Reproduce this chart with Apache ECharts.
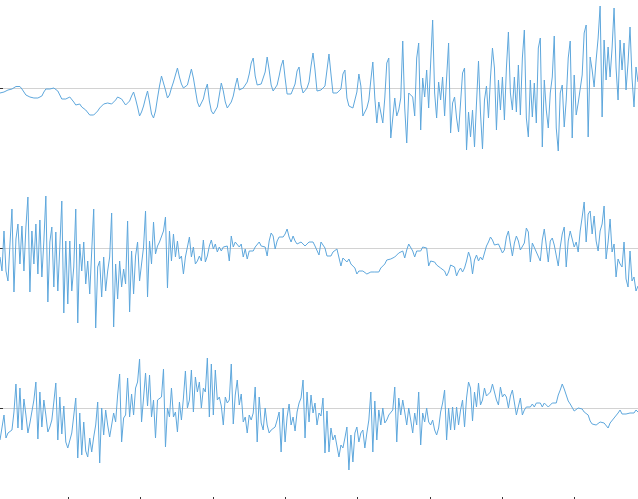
<!DOCTYPE html>
<html>
<head>
<meta charset="utf-8">
<script src="https://cdn.jsdelivr.net/npm/echarts@6/dist/echarts.min.js"></script>
<style>
html,body{margin:0;padding:0;background:#fff;}
#chart{width:638px;height:499px;}
</style>
</head>
<body>
<div id="chart"></div>
<script>
// Series values (index 0..320)
const topValues = [
-5,-5,-4,-2.5,-2,-1.5,-1,0,1.5,2,
1.5,-1,-4,-7,-7,-9,-11,-10,-10,-10,
-9,-8,-4,-1,-1,-1,-2,0,0,-3,
-7,-11,-11,-11,-9,-9,-11,-14,-17,-16,
-16,-19,-21,-22,-24,-27,-27,-27,-25,-23,
-20,-18,-16,-15,-15,-16,-16,-15,-12,-9,
-7,-11,-14,-17,-15,-13,-8,-4,-11,-19,
-28,-24,-18,-10,-3,-14,-26,-30,-23,-10,
2,12,10,-2,-10,-7,0,6,13,20,
11,4,0,-1,3,11,19,10,-2,-14,
-19,-18,-11,-2,4,-13,-23,-26,-24,-19,
-7,5,-3,-14,-20,-17,-14,-8,2,10,
-2,-4,0,3,6,14,25,30,12,3,
5,4,3,16,31,18,3,-3,0,3,
12,22,28,10,-6,-7,-6,-5,4,17,
21,3,-5,-3,0,6,22,35,18,-3,
-3,
-2,-1,2,18,34,14,-5,-5,-5,-3,
-1,14,18,-10,-18,-18,-20,-22,-4,14,
2,-28,-28,-20,-12,8,26,-10,-35,-14,
-16,-35,-10,25,30,-50,-30,-10,-28,-22,
-10,47,-20,-55,-5,-4,-9,-28,30,45,
-42,10,-9,18,-20,25,68,-5,-30,6,
-12,11,-28,10,45,-45,-15,-9,-30,-44,
-15,15,20,-62,-24,-49,-22,-59,-15,27,
-25,-61,-12,2,-30,10,40,20,-42,8,
-22,11,-32,20,56,-5,-22,11,-24,23,
-27,30,58,-30,-49,8,-29,5,-35,40,
50,-59,8,-22,-40,-5,11,52,-40,-63,
-5,3,-39,-12,30,47,-50,13,-27,-15,
-15,13,55,63,-49,31,18,1,28,50,
82,-29,48,8,41,11,40,80,20,-12,
48,18,45,-2,25,61,10,-19,21,6
];
const midValues = [
-9,-23,17,-23,-33,4,39,-44,9,24,
-16,22,-23,21,51,-44,17,-16,24,-26,
28,-29,7,52,-54,6,21,-39,16,-43,
1,47,-65,7,-56,7,-43,-19,39,-75,
4,-23,6,-36,-13,-46,-3,39,-80,-19,
-13,-49,-9,-43,-23,-9,35,-79,-16,-51,
-13,-39,-21,-36,27,-64,-3,-46,-8,6,
-33,-16,1,37,-49,7,-16,26,-6,2,
6,7,17,31,-40,17,-13,14,-9,7,
-11,-8,-26,-9,1,11,-9,1,-16,-13,
-8,-13,8,-14,-8,2,8,-1,4,-4,
1,-3,1,1,2,-13,12,1,6,8,
1,4,-9,-1,-11,-3,-4,-3,1,2,
6,2,4,1,-8,7,15,12,-1,7,
11,9,11,14,19,11,6,12,7,4,
4,6,4,2,1,6,4,6,2,4,
-7,
6,4,0,-8,-7,-8,-4,-6,-1,-1,
-18,-10,-11,-14,-11,-16,-17,-20,-26,-23,
-23,-23,-24,-26,-28,-24,-22,-24,-26,-24,
-20,-18,-16,-12,-11,-11,-10,-9,-7,-5,
-4,-3,-10,-2,4,4,-3,-9,-3,-1,
-3,1,3,0,-18,-13,-14,-14,-17,-19,
-20,-20,-23,-28,-24,-17,-16,-19,-28,-23,
-20,-24,-20,-13,-4,-10,-26,-12,-7,-13,
-9,-12,-10,2,6,11,8,3,4,4,
2,-5,-2,11,17,4,-8,5,12,7,
-2,-4,5,20,16,-14,5,4,-4,-3,
-13,8,19,17,-14,7,10,3,4,-18,
1,14,21,-19,7,17,18,1,6,-4,
17,31,46,6,34,37,14,32,7,-3,
17,24,42,-11,6,29,-4,4,-29,-11,
-16,-19,6,-31,-39,-3,-33,-29,-43,-38
];
const botValues = [
-32,-32,-7,-30,-25,-25,-22,-4,24,-20,
20,-22,9,-7,-25,-15,-17,8,26,-31,
16,-19,8,-7,-24,-19,-12,6,25,-32,
11,-26,2,-34,-40,-41,-25,-27,10,-50,
-5,-47,-14,-43,-49,-30,-44,-29,-17,6,
-55,0,-27,-2,-17,-29,-27,-5,-14,13,
34,-34,-10,-7,30,-9,14,-7,20,26,
49,-14,10,35,2,33,-9,8,-30,8,
10,11,39,-39,0,-9,20,-9,-4,-24,
6,-12,10,37,0,8,38,-4,31,16,
26,0,20,16,50,-9,44,-7,38,8,
11,2,-17,11,5,8,44,-16,13,28,
3,14,-14,-9,-25,-7,-12,-5,21,-34,
11,-15,-22,0,-17,-25,-22,-24,-19,-12,
-4,-44,0,-34,-9,4,-17,-9,-23,-4,
5,10,28,-30,16,-14,13,-5,5,-17,
-5,
-8,10,-45,-3,-44,-20,-32,-27,-25,-49,
-37,-40,-30,-19,-62,-27,-54,-25,-19,-34,
-25,-22,-40,-25,-12,16,-44,7,-32,-2,
-17,0,-15,-12,-7,-5,-2,21,-34,10,
-7,8,-4,-17,0,-12,-25,-5,-17,16,
-37,-5,-14,0,-14,-17,-12,-22,-27,-20,
-4,5,18,-32,0,-22,1,-22,1,-17,
-2,8,-19,10,26,20,-13,16,1,25,
3,8,20,12,10,16,24,25,8,3,
21,11,14,11,0,12,18,16,-7,-9,
10,-7,-2,1,3,1,4,1,5,3,
5,1,5,4,1,3,5,6,5,13,
18,24,19,13,7,4,2,-3,-1,0,
0,-1,-4,-6,-7,-13,-16,-15,-17,-16,
-14,-13,-15,-16,-20,-15,-13,-10,-8,-5,
-2,-6,-7,-6,-6,-5,-4,-5,-2,-4
];
// Tick positions (x index units) and y baseline tick
const xTickValues = [34.1, 70.2, 106.8, 142.9, 179.0, 215.6, 251.8, 287.9];
const yTickValues = [0];

const seriesList = [topValues, midValues, botValues];
const yRanges = [[-88, 88], [-88, 88], [-89, 88]];
const gridBoxes = [
  {left: 0, right: 0, top: 0, height: 176},
  {left: 0, right: 0, top: 160, height: 176},
  {left: 0, right: 0, top: 320, height: 177}
];

const chart = echarts.init(document.getElementById('chart'), null, {renderer: 'canvas'});
const option = {
  animation: false,
  backgroundColor: '#ffffff',
  grid: gridBoxes.map(g => Object.assign({containLabel: false}, g)),
  xAxis: seriesList.map((s, k) => ({
    type: 'value',
    gridIndex: k,
    min: 0,
    max: s.length - 1,
    show: k === 2,
    position: 'bottom',
    axisLine: {show: false, onZero: false},
    axisTick: {show: k === 2, length: 5, customValues: xTickValues, lineStyle: {color: '#333'}},
    axisLabel: {show: false},
    splitLine: {show: false}
  })),
  yAxis: seriesList.map((s, k) => ({
    type: 'value',
    gridIndex: k,
    min: yRanges[k][0],
    max: yRanges[k][1],
    axisLine: {show: false, onZero: false},
    axisTick: {show: true, inside: true, length: 3, customValues: yTickValues, lineStyle: {color: '#333'}},
    axisLabel: {show: false},
    splitLine: {show: true, lineStyle: {color: '#d2d2d2', width: 1}}
  })),
  series: seriesList.map((s, k) => ({
    type: 'line',
    xAxisIndex: k,
    yAxisIndex: k,
    data: s.map((v, i) => [i, v]),
    showSymbol: false,
    symbol: 'none',
    sampling: null,
    clip: true,
    lineStyle: {color: '#5ea7dc', width: 1},
    itemStyle: {color: '#5ea7dc'}
  }))
};
chart.setOption(option);
</script>
</body>
</html>
